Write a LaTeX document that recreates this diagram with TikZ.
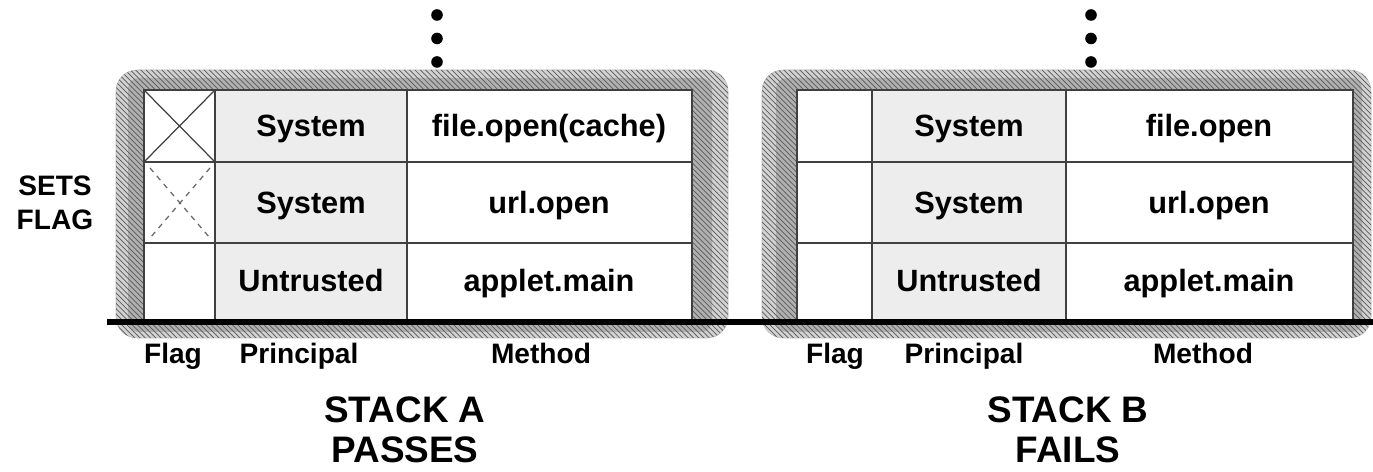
\documentclass[tikz,border=0pt]{standalone}
\usepackage{fontspec}
\setmainfont{Liberation Sans}
\usetikzlibrary{patterns}

\tikzset{
	cell/.style={font=\bfseries\fontsize{17.5}{19}\selectfont,text height=0.72em,text depth=0.2em},
	colname/.style={font=\bfseries\fontsize{16}{18}\selectfont,text height=0.72em,text depth=0.2em},
	verdict/.style={font=\bfseries\fontsize{21}{23}\selectfont,align=center,inner sep=1pt},
	gridline/.style={draw=black!75,line width=0.8pt},
	shadowband/.style={fill=gray!35,draw=gray!55,line width=0.3pt,rounded corners=12pt},
	shadowcore/.style={fill=gray!62,rounded corners=6pt},
	hatch/.style={pattern=north west lines,pattern color=black!65},
	ground/.style={line width=3.2pt},
	dotline/.style={line width=6.6pt,line cap=round,dash pattern=on 0pt off 0.47cm}
}

\begin{document}
\begin{tikzpicture}[x=0.02cm,y=-0.02cm]
		\useasboundingbox (0,0) rectangle (1373,472);
		% rough shadowed frames
		\filldraw[shadowband] (116,70) rectangle (728,338);
		\fill[shadowcore] (128,78) rectangle (712,332);
		\fill[hatch,rounded corners=12pt] (116,70) rectangle (728,338);
		\filldraw[shadowband] (762,70) rectangle (1371,338);
		\fill[shadowcore] (776,78) rectangle (1362,332);
		\fill[hatch,rounded corners=12pt] (762,70) rectangle (1371,338);
		% stack A table
		\fill[white] (144,90) rectangle (692,322);
		\fill[gray!14] (215,90) rectangle (407,322);
		\draw[gridline] (144,90) rectangle (692,322);
		\draw[gridline] (215,90) -- (215,322) (407,90) -- (407,322);
		\draw[gridline] (144,162) -- (692,162) (144,243) -- (692,243);
		\draw[black!75,line width=0.7pt] (144,90) -- (215,162) (215,90) -- (144,162);
		\draw[black!60,line width=0.7pt,dashed] (150,168) -- (210,238) (210,168) -- (150,238);
		\node[cell] (sysA1) at (311,132) {System};
		\node[cell] (sysA2) at (311,209) {System};
		\node[cell] (untA) at (311,287) {Untrusted};
		\node[cell] (fileA) at (549,132) {file.open(cache)};
		\node[cell] (urlA) at (549,209) {url.open};
		\node[cell] (appA) at (549,287) {applet.main};
		% stack B table
		\fill[white] (797,90) rectangle (1353,322);
		\fill[gray!14] (872,90) rectangle (1066,322);
		\draw[gridline] (797,90) rectangle (1353,322);
		\draw[gridline] (872,90) -- (872,322) (1066,90) -- (1066,322);
		\draw[gridline] (797,162) -- (1353,162) (797,243) -- (1353,243);
		\node[cell] (sysB1) at (969,132) {System};
		\node[cell] (sysB2) at (969,209) {System};
		\node[cell] (untB) at (969,287) {Untrusted};
		\node[cell] (fileB) at (1209,132) {file.open};
		\node[cell] (urlB) at (1209,209) {url.open};
		\node[cell] (appB) at (1209,287) {applet.main};
		% ground line and the rest of the stacks above
		\coordinate (groundL) at (107,322);
		\coordinate (groundR) at (1373,322);
		\draw[ground] (groundL) -- (groundR);
		\coordinate (dotsA) at (437,15);
		\coordinate (topA) at (437,63);
		\coordinate (dotsB) at (1091,15);
		\coordinate (topB) at (1091,63);
		\draw[dotline] (dotsA) -- (topA);
		\draw[dotline] (dotsB) -- (topB);
		% labels
		\node[colname] (flagA) at (173,359) {Flag};
		\node[colname] (prinA) at (299,359) {Principal};
		\node[colname] (methA) at (541,359) {Method};
		\node[colname] (flagB) at (835,359) {Flag};
		\node[colname] (prinB) at (964,359) {Principal};
		\node[colname] (methB) at (1203,359) {Method};
		\node[verdict] (passA) at (405,430) {STACK A\\PASSES};
		\node[verdict] (failB) at (1068,430) {STACK B\\FAILS};
		\node[verdict,font=\bfseries\fontsize{16}{19}\selectfont] (setsflag) at (55,203) {SETS\\FLAG};
	\end{tikzpicture}
\end{document}
